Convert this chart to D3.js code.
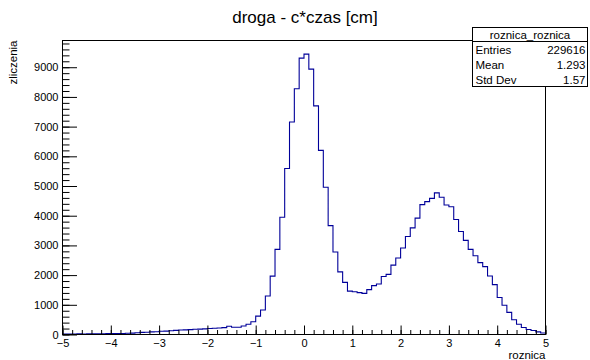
<!DOCTYPE html>
<html>
<head>
<meta charset="utf-8">
<script src="https://cdn.jsdelivr.net/npm/d3@7"></script>
<style>
  html, body { margin: 0; padding: 0; background: #fff; }
  svg { display: block; font-family: "Liberation Sans", Arial, sans-serif; }
</style>
</head>
<body>
<svg id="chart" width="590" height="360"></svg>
<script>
// ---- data ----
const binEdgesRange = [-5, 5];
const nBins = 100;
const counts = [
  15, 18, 16, 20, 18, 22, 20, 25, 22, 28,
  30, 32, 35, 40, 45, 60, 70, 75, 90, 95,
  110, 115, 125, 140, 150, 155, 165, 175, 180, 190,
  200, 210, 220, 230, 280, 245, 245, 285, 345, 430,
  620, 825, 1295, 1965, 2865, 3950, 5590, 7155, 8275, 9305,
  9440, 8935, 7700, 6200, 4960, 3665, 2780, 2110, 1755, 1460,
  1440, 1410, 1385, 1510, 1645, 1700, 1955, 2025, 2335, 2575,
  2915, 3300, 3590, 3920, 4375, 4475, 4585, 4770, 4620, 4360,
  4300, 3870, 3470, 3170, 2865, 2650, 2420, 2285, 1970, 1680,
  1245, 985, 745, 495, 345, 235, 170, 135, 90, 50
];
const xTicks = [-5, -4, -3, -2, -1, 0, 1, 2, 3, 4, 5];
const yTicks = [0, 1000, 2000, 3000, 4000, 5000, 6000, 7000, 8000, 9000];
const yMax = 9900;
const title = "droga - c*czas [cm]";
const xTitle = "roznica";
const yTitle = "zliczenia";
const statsTitle = "roznica_roznica";
const statsLabels = ["Entries", "Mean", "Std Dev"];
const statsValues = ["229616", "1.293", "1.57"];

// ---- layout ----
const svg = d3.select("#chart");
const L = 62.5, R = 545.5, T = 40.5, B = 334.5;
const x = d3.scaleLinear().domain(binEdgesRange).range([L, R]);
const y = d3.scaleLinear().domain([0, yMax]).range([B, T]);
const binW = (binEdgesRange[1] - binEdgesRange[0]) / nBins;

// title
svg.append("text").attr("x", 305).attr("y", 23).attr("text-anchor", "middle")
  .attr("font-size", 17).text(title);

// histogram outline
const pts = [[binEdgesRange[0], 0]];
counts.forEach((c, i) => {
  const x0 = binEdgesRange[0] + i * binW;
  pts.push([x0, c]);
  pts.push([x0 + binW, c]);
});
pts.push([binEdgesRange[1], 0]);
const line = d3.line().x(d => x(d[0])).y(d => y(d[1]));
svg.append("path").attr("d", line(pts)).attr("fill", "none")
  .attr("stroke", "#000099").attr("stroke-width", 1.1);

// axes
const fmt = d => d3.format("d")(d).replace("-", "\u2212");
const xMinor = d3.range(-5, 5.0001, 0.2).map(v => +v.toFixed(1));
const yMinor = d3.range(0, yMax, 200);

const gx = svg.append("g").attr("transform", `translate(0,${B})`);
gx.call(d3.axisBottom(x).tickValues(xMinor).tickSize(-4.5).tickFormat(""));
gx.call(g => g.select(".domain").remove());
const gx2 = svg.append("g").attr("transform", `translate(0,${B})`);
gx2.call(d3.axisBottom(x).tickValues(xTicks).tickSize(-9).tickPadding(5).tickFormat(fmt));
gx2.call(g => g.select(".domain").remove());
gx2.selectAll("text").attr("font-size", 11).attr("font-family", "Liberation Sans, Arial, sans-serif").attr("fill", "#000");

const gy = svg.append("g").attr("transform", `translate(${L},0)`);
gy.call(d3.axisLeft(y).tickValues(yMinor).tickSize(-7).tickFormat(""));
gy.call(g => g.select(".domain").remove());
const gy2 = svg.append("g").attr("transform", `translate(${L},0)`);
gy2.call(d3.axisLeft(y).tickValues(yTicks).tickSize(-14.5).tickPadding(4).tickFormat(fmt));
gy2.call(g => g.select(".domain").remove());
gy2.selectAll("text").attr("font-size", 11).attr("font-family", "Liberation Sans, Arial, sans-serif").attr("fill", "#000");
svg.selectAll(".tick line").attr("stroke", "#000");

// frame
svg.append("rect").attr("x", L).attr("y", T).attr("width", R - L).attr("height", B - T)
  .attr("fill", "none").attr("stroke", "#000").attr("stroke-width", 1);

// axis titles
svg.append("text").attr("x", R).attr("y", 359).attr("text-anchor", "end")
  .attr("font-size", 11.5).text(xTitle);
svg.append("text").attr("transform", `translate(17,${T}) rotate(-90)`)
  .attr("text-anchor", "end").attr("font-size", 11.5).text(yTitle);

// stats box
const sb = { x: 472.5, y: 27.5, w: 115, h: 59, head: 14 };
svg.append("rect").attr("x", sb.x).attr("y", sb.y).attr("width", sb.w).attr("height", sb.h)
  .attr("fill", "#fff").attr("stroke", "#000").attr("stroke-width", 1);
svg.append("line").attr("x1", sb.x).attr("x2", sb.x + sb.w)
  .attr("y1", sb.y + sb.head).attr("y2", sb.y + sb.head).attr("stroke", "#000");
svg.append("text").attr("x", sb.x + sb.w / 2).attr("y", sb.y + 11).attr("text-anchor", "middle")
  .attr("font-size", 11.5).text(statsTitle);
statsLabels.forEach((lab, i) => {
  const yy = sb.y + sb.head + 12 + i * 15;
  svg.append("text").attr("x", sb.x + 3).attr("y", yy).attr("font-size", 11.5).text(lab);
  svg.append("text").attr("x", sb.x + sb.w - 2).attr("y", yy).attr("text-anchor", "end")
    .attr("font-size", 11.5).text(statsValues[i]);
});
</script>
</body>
</html>
